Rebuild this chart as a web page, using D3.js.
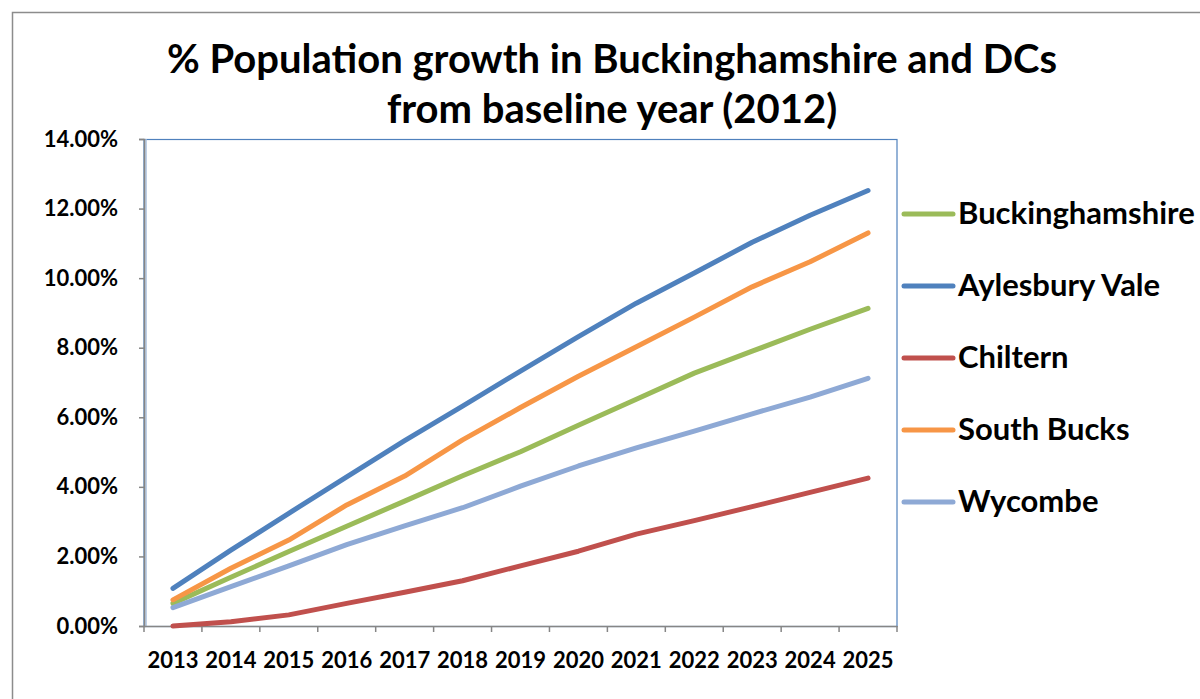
<!DOCTYPE html>
<html>
<head>
<meta charset="utf-8">
<script src="https://cdn.jsdelivr.net/npm/d3@7/dist/d3.min.js"></script>
<style>
  html, body { margin: 0; padding: 0; background: #fff; }
  svg { display: block; font-family: Lato, "Open Sans", sans-serif; font-weight: bold; }
</style>
</head>
<body>
<svg id="chart" width="1200" height="699"></svg>
<script>
// Projected population growth relative to 2012, in percent
const years = ["2013","2014","2015","2016","2017","2018","2019","2020","2021","2022","2023","2024","2025"];
const buckinghamshire = [0.65, 1.40, 2.14, 2.87, 3.59, 4.32, 5.01, 5.77, 6.52, 7.27, 7.90, 8.53, 9.13];
const aylesburyVale   = [1.08, 2.18, 3.24, 4.29, 5.33, 6.32, 7.33, 8.32, 9.28, 10.15, 11.03, 11.81, 12.52];
const chiltern        = [0.00, 0.12, 0.32, 0.65, 0.97, 1.30, 1.73, 2.15, 2.64, 3.03, 3.43, 3.84, 4.25];
const southBucks      = [0.75, 1.66, 2.47, 3.48, 4.31, 5.35, 6.28, 7.18, 8.03, 8.88, 9.75, 10.47, 11.30];
const wycombe         = [0.53, 1.13, 1.73, 2.34, 2.88, 3.40, 4.02, 4.60, 5.12, 5.60, 6.10, 6.58, 7.12];
const seriesNames  = ["Buckinghamshire", "Aylesbury Vale", "Chiltern", "South Bucks", "Wycombe"];
const seriesValues = [buckinghamshire, aylesburyVale, chiltern, southBucks, wycombe];
const seriesColors = ["#9BBB59", "#4F81BD", "#C0504D", "#F79646", "#8EA9D5"];
const yTicks = [0, 2, 4, 6, 8, 10, 12, 14];
const titleLines = ["% Population growth in Buckinghamshire and DCs", "from baseline year (2012)"];

const svg = d3.select("#chart");

// outer chart frame
svg.append("rect")
  .attr("x", 12.5).attr("y", 12.5)
  .attr("width", 1200).attr("height", 700)
  .attr("fill", "#fff").attr("stroke", "#8c8c8c").attr("stroke-width", 1.5);

const plot = { left: 144, top: 139, right: 897, bottom: 626 };

const x = d3.scaleBand().domain(years).range([plot.left, plot.right]);
const y = d3.scaleLinear().domain([0, 14]).range([plot.bottom, plot.top]);

// plot area border
svg.append("rect")
  .attr("x", plot.left).attr("y", plot.top + 0.5)
  .attr("width", plot.right - plot.left).attr("height", plot.bottom - plot.top)
  .attr("fill", "none").attr("stroke", "#4F81BD").attr("stroke-width", 1.2);
svg.append("line")
  .attr("x1", plot.left + 2).attr("x2", plot.left + 2)
  .attr("y1", plot.top).attr("y2", plot.bottom)
  .attr("stroke", "#a9bfdd").attr("stroke-width", 1.5);

// title
svg.append("g").selectAll("text").data(titleLines).join("text")
  .attr("x", 612).attr("y", (d, i) => 73 + i * 50)
  .attr("text-anchor", "middle")
  .attr("font-size", 40)
  .attr("fill", "#000")
  .text(d => d);

// y axis
const yAxis = svg.append("g")
  .attr("transform", `translate(${plot.left},0)`)
  .call(d3.axisLeft(y).tickValues(yTicks).tickSize(5).tickPadding(21)
    .tickFormat(d => d.toFixed(2) + "%"));
yAxis.select(".domain").attr("stroke", "#868686").attr("stroke-width", 1.5);
yAxis.selectAll(".tick line").attr("stroke", "#868686").attr("stroke-width", 1.5);
yAxis.selectAll(".tick text")
  .attr("font-size", 22).attr("font-weight", "bold").attr("fill", "#000")
  .attr("font-family", "Lato, sans-serif");

// x axis with ticks on category boundaries
const xAxis = svg.append("g")
  .attr("transform", `translate(0,${plot.bottom})`)
  .call(d3.axisBottom(x).tickSize(0).tickPadding(26));
xAxis.select(".domain").attr("stroke", "#868686").attr("stroke-width", 1.5);
xAxis.selectAll(".tick text")
  .attr("font-size", 22).attr("font-weight", "bold").attr("fill", "#000")
  .attr("font-family", "Lato, sans-serif");
const bounds = years.map(d => x(d)).concat([x(years[years.length - 1]) + x.bandwidth()]);
xAxis.append("g").selectAll("line").data(bounds).join("line")
  .attr("x1", d => d).attr("x2", d => d)
  .attr("y1", 0).attr("y2", 6)
  .attr("stroke", "#868686").attr("stroke-width", 1.5);

// series lines
const line = d3.line()
  .x((d, i) => x(years[i]) + x.bandwidth() / 2)
  .y(d => y(d));
svg.append("g").selectAll("path").data(seriesValues).join("path")
  .attr("d", d => line(d))
  .attr("fill", "none")
  .attr("stroke", (d, i) => seriesColors[i])
  .attr("stroke-width", 5)
  .attr("stroke-linejoin", "round")
  .attr("stroke-linecap", "round");

// legend
const legend = svg.append("g").selectAll("g").data(seriesNames).join("g")
  .attr("transform", (d, i) => `translate(904,${214 + i * 72})`);
legend.append("line")
  .attr("x1", 0).attr("x2", 49).attr("y1", 0).attr("y2", 0)
  .attr("stroke", (d, i) => seriesColors[i])
  .attr("stroke-width", 5).attr("stroke-linecap", "round");
legend.append("text")
  .attr("x", 54).attr("y", 10)
  .attr("font-size", 31).attr("fill", "#000")
  .text(d => d);
</script>
</body>
</html>
